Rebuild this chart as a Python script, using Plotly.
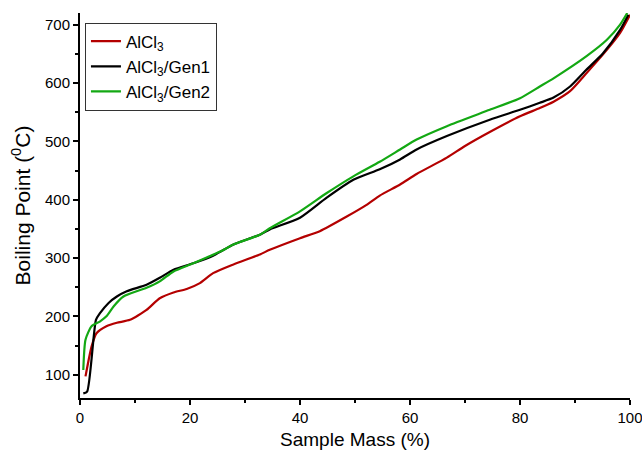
import plotly.graph_objects as go

# Data
red_x = [1.0, 2.1, 3.0, 4.8, 6.7, 9.1, 12.1, 14.5, 17, 19.4, 21.8, 24.2, 27.9, 32.7, 34.5, 40, 43.6, 48.5, 52.1, 54.5, 58.2, 61.2, 66.7, 70.0, 74.5, 80, 83.6, 86.1, 89.1, 92.1, 95.1, 98.2, 100]
red_y = [97, 148, 171, 183, 189, 194, 211, 231, 241, 247, 257, 274, 289, 306, 314, 334, 346, 371, 391, 407, 426, 444, 472, 492, 516, 543, 557, 568, 586, 617, 649, 686, 717]

black_x = [0.6, 1.3, 2.9, 3.6, 5.2, 6.7, 8.5, 12.1, 14.5, 17, 20.6, 24.2, 27.9, 32.7, 34.5, 40, 44.8, 49.7, 54.5, 58.2, 61.2, 66.7, 74.5, 80, 83.6, 86.1, 89.1, 92.1, 95.1, 98.2, 99.7]
black_y = [68, 71, 194, 205, 223, 234, 243, 254, 266, 280, 291, 304, 323, 340, 349, 369, 403, 434, 452, 469, 486, 509, 537, 554, 566, 575, 594, 623, 651, 691, 717]

green_x = [0.6, 1.0, 2.1, 3.6, 4.8, 6.1, 7.9, 12.1, 14.5, 17, 20.6, 25.5, 27.9, 32.7, 34.5, 40, 44.8, 49.7, 54.5, 58.2, 61.2, 66.7, 74.5, 80, 83.6, 86.1, 92.1, 95.8, 98.2, 99.5]
green_y = [108, 160, 183, 191, 200, 217, 234, 249, 260, 277, 291, 311, 323, 340, 351, 380, 411, 440, 465, 486, 503, 526, 554, 574, 594, 608, 646, 674, 700, 720]

names = ["AlCl<sub>3</sub>", "AlCl<sub>3</sub>/Gen1", "AlCl<sub>3</sub>/Gen2"]
x_ticks = [0, 20, 40, 60, 80, 100]
y_ticks = [100, 200, 300, 400, 500, 600, 700]

fig = go.Figure()
for xs, ys, nm, col in [(red_x, red_y, names[0], "#b40000"),
                         (black_x, black_y, names[1], "#000000"),
                         (green_x, green_y, names[2], "#13a813")]:
    fig.add_trace(go.Scatter(x=xs, y=ys, name=nm, mode="lines",
                             line=dict(color=col, width=2.2, shape="spline", smoothing=0.6)))

axis_common = dict(showline=True, linecolor="black", linewidth=2, ticks="outside",
                   ticklen=5, tickwidth=2, tickcolor="black", showgrid=False, zeroline=False,
                   mirror=False, automargin=False, ticklabeloverflow="allow",
                   tickfont=dict(size=15, color="black"))
fig.update_xaxes(range=[0, 100], tickvals=x_ticks,
                 title=dict(text="Sample Mass (%)", font=dict(size=19, color="black"), standoff=8),
                 minor=dict(ticks="outside", dtick=10, ticklen=3, tickwidth=2, tickcolor="black"),
                 **axis_common)
fig.update_yaxes(range=[60, 720], tickvals=y_ticks,
                 title=dict(text="Boiling Point (<sup>0</sup>C)", font=dict(size=21, color="black"), standoff=9),
                 minor=dict(ticks="outside", dtick=50, tick0=50, ticklen=3, tickwidth=2, tickcolor="black"),
                 **axis_common)

fig.update_layout(
    width=642, height=455,
    margin=dict(l=80, r=12, t=13, b=57),
    paper_bgcolor="white", plot_bgcolor="white",
    font=dict(family="Liberation Sans, Arial, sans-serif", color="black"),
    legend=dict(x=0.009, y=0.975, xanchor="left", yanchor="top",
                bordercolor="#333333", borderwidth=1, bgcolor="white",
                font=dict(size=17, color="black"), tracegroupgap=0),
)
fig.write_html("out.html")
